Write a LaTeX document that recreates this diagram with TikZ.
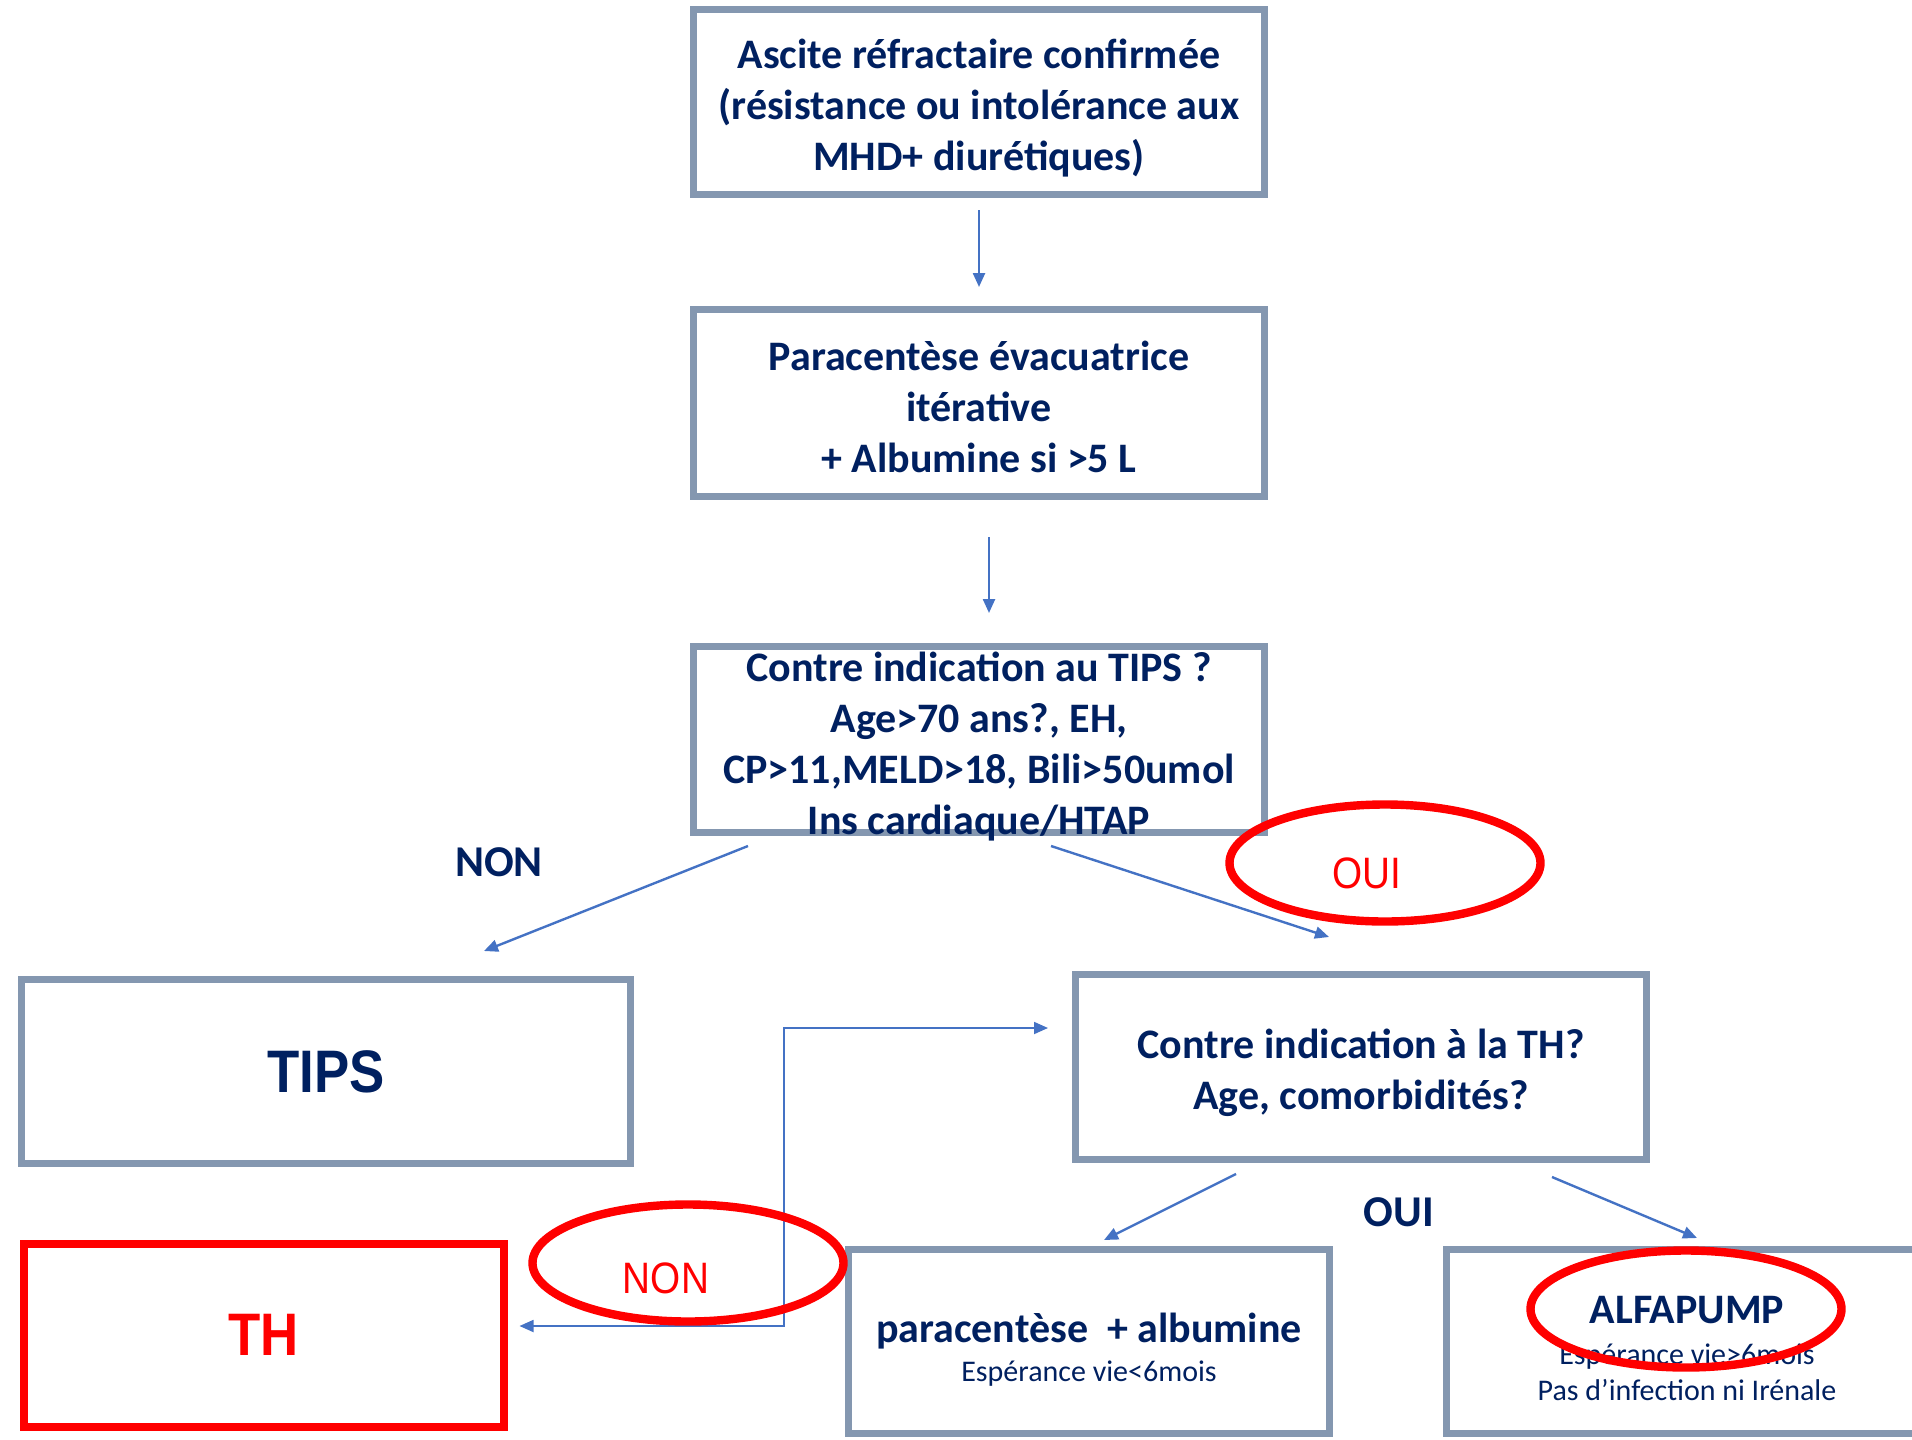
\documentclass[tikz,border=0pt]{standalone}
\usepackage{fontspec}
\setmainfont{Carlito}
\newfontfamily\narrowsans[FakeStretch=0.88]{Liberation Sans}
\usetikzlibrary{shapes.geometric, arrows.meta, positioning, calc}
\definecolor{boxGray}{RGB}{132, 151, 176}
\definecolor{navyText}{RGB}{0, 32, 96}
\definecolor{arrowBlue}{RGB}{68, 114, 196}
\definecolor{alertRed}{RGB}{255, 0, 0}
\newcommand{\subtxt}{\mdseries\fontsize{15}{18}\selectfont}

\begin{document}
\begin{tikzpicture}[
        x=0.5pt, y=-0.5pt,
        box/.style={rectangle, draw=boxGray, line width=3.5pt, fill=white, minimum width=285.5pt, minimum height=92.5pt, inner sep=0pt, align=center, text=navyText, font=\bfseries\fontsize{21}{25.5}\selectfont},
        bigtxt/.style={font=\narrowsans\bfseries\fontsize{30}{36}\selectfont},
        arrow/.style={-{Triangle[length=7pt, width=6pt]}, line width=1.2pt, arrowBlue},
        ovalmark/.style={ellipse, draw=alertRed, line width=4.2pt, minimum width=155.5pt, minimum height=58.5pt, inner sep=0pt},
        tag/.style={text=navyText, font=\bfseries\fontsize{22}{26}\selectfont},
        redtag/.style={text=alertRed, font=\narrowsans\fontsize{22}{26}\selectfont}
    ]
        \useasboundingbox (0,0) rectangle (1912,1440);
        \clip (0,0) rectangle (1912,1440);

        % Main path
        \node[box, text height=72pt] (asc) at (979,102) {Ascite réfractaire confirmée\\(résistance ou intolérance aux\\MHD+ diurétiques)};
        \node[box, text height=69.6pt, minimum height=93.5pt] (para) at (979,403) {Paracentèse évacuatrice\\itérative\\+ Albumine si >5 L};
        \node[box, minimum height=93pt, label={[align=center, text=navyText, font=\bfseries\fontsize{21}{25.5}\selectfont, yshift=-3.5pt]center:Contre indication au TIPS ?\\Age>70 ans?, EH,\\CP>11,MELD>18, Bili>50umol\\Ins cardiaque/HTAP}] (citips) at (979,739.5) {};

        % Outcomes
        \node[box, bigtxt, minimum width=304.5pt, minimum height=92pt] (tips) at (326,1071.5) {TIPS};
        \node[box, bigtxt, draw=alertRed, text=alertRed, line width=4pt, minimum width=240pt, minimum height=91.5pt] (th) at (263.5,1335) {TH};
        \node[box, text height=46pt] (cith) at (1361,1067) {Contre indication à la TH?\\Age, comorbidités?};
        \node[box, text height=42.9pt, minimum width=240.5pt, minimum height=92pt] (albu) at (1089,1341.5) {paracentèse~ + albumine\\[-6pt]{\subtxt Espérance vie<6mois}};
        \node[box, text height=58.7pt, minimum width=240.5pt, minimum height=92pt] (pump) at (1687,1341.5) {ALFAPUMP\\[-5pt]{\subtxt Espérance vie>6mois}\\[-7.5pt]{\subtxt Pas d’infection ni Irénale}};

        \draw[arrow, shorten <=6pt, shorten >=9.5pt] (asc.south) -- (para.north);
        \draw[arrow, shorten <=18.5pt, shorten >=15pt] ($(para.south)+(10,0)$) -- ($(citips.north)+(10,0)$);
        \draw[arrow] ($(citips.south)+(-231,10)$) -- ($(tips.north)+(158,-25)$);
        \draw[arrow] ($(citips.south)+(72,10)$) -- ($(cith.north)+(-32,-34)$);
        \draw[arrow] ($(cith.south)+(-125,11)$) -- ($(albu.north)+(15,-6)$);
        \draw[arrow] ($(cith.south)+(191,14)$) -- ($(pump.north)+(10,-8)$);
        \draw[arrow, {Triangle[length=7pt, width=6pt]}-{Triangle[length=7pt, width=6pt]}, line width=0.9pt] ($(th.east)+(12,-9)$) -| ($(cith.west)+(-288,-39)$) -- ($(cith.west)+(-24,-39)$);

        % Labels
        \node[tag] (nonlbl) at (499,862) {NON};
        \node[tag] (ouilbl) at (1399,1212) {OUI};
        \node[ovalmark] (ouioval) at (1385,863) {};
        \node[redtag] (ouitxt) at (1367,873) {OUI};
        \node[ovalmark] (nonoval) at (688,1263) {};
        \node[redtag] (nontxt) at (666,1278) {NON};
        \node[ovalmark] (pumpoval) at (1686,1309) {};
    \end{tikzpicture}
\end{document}
